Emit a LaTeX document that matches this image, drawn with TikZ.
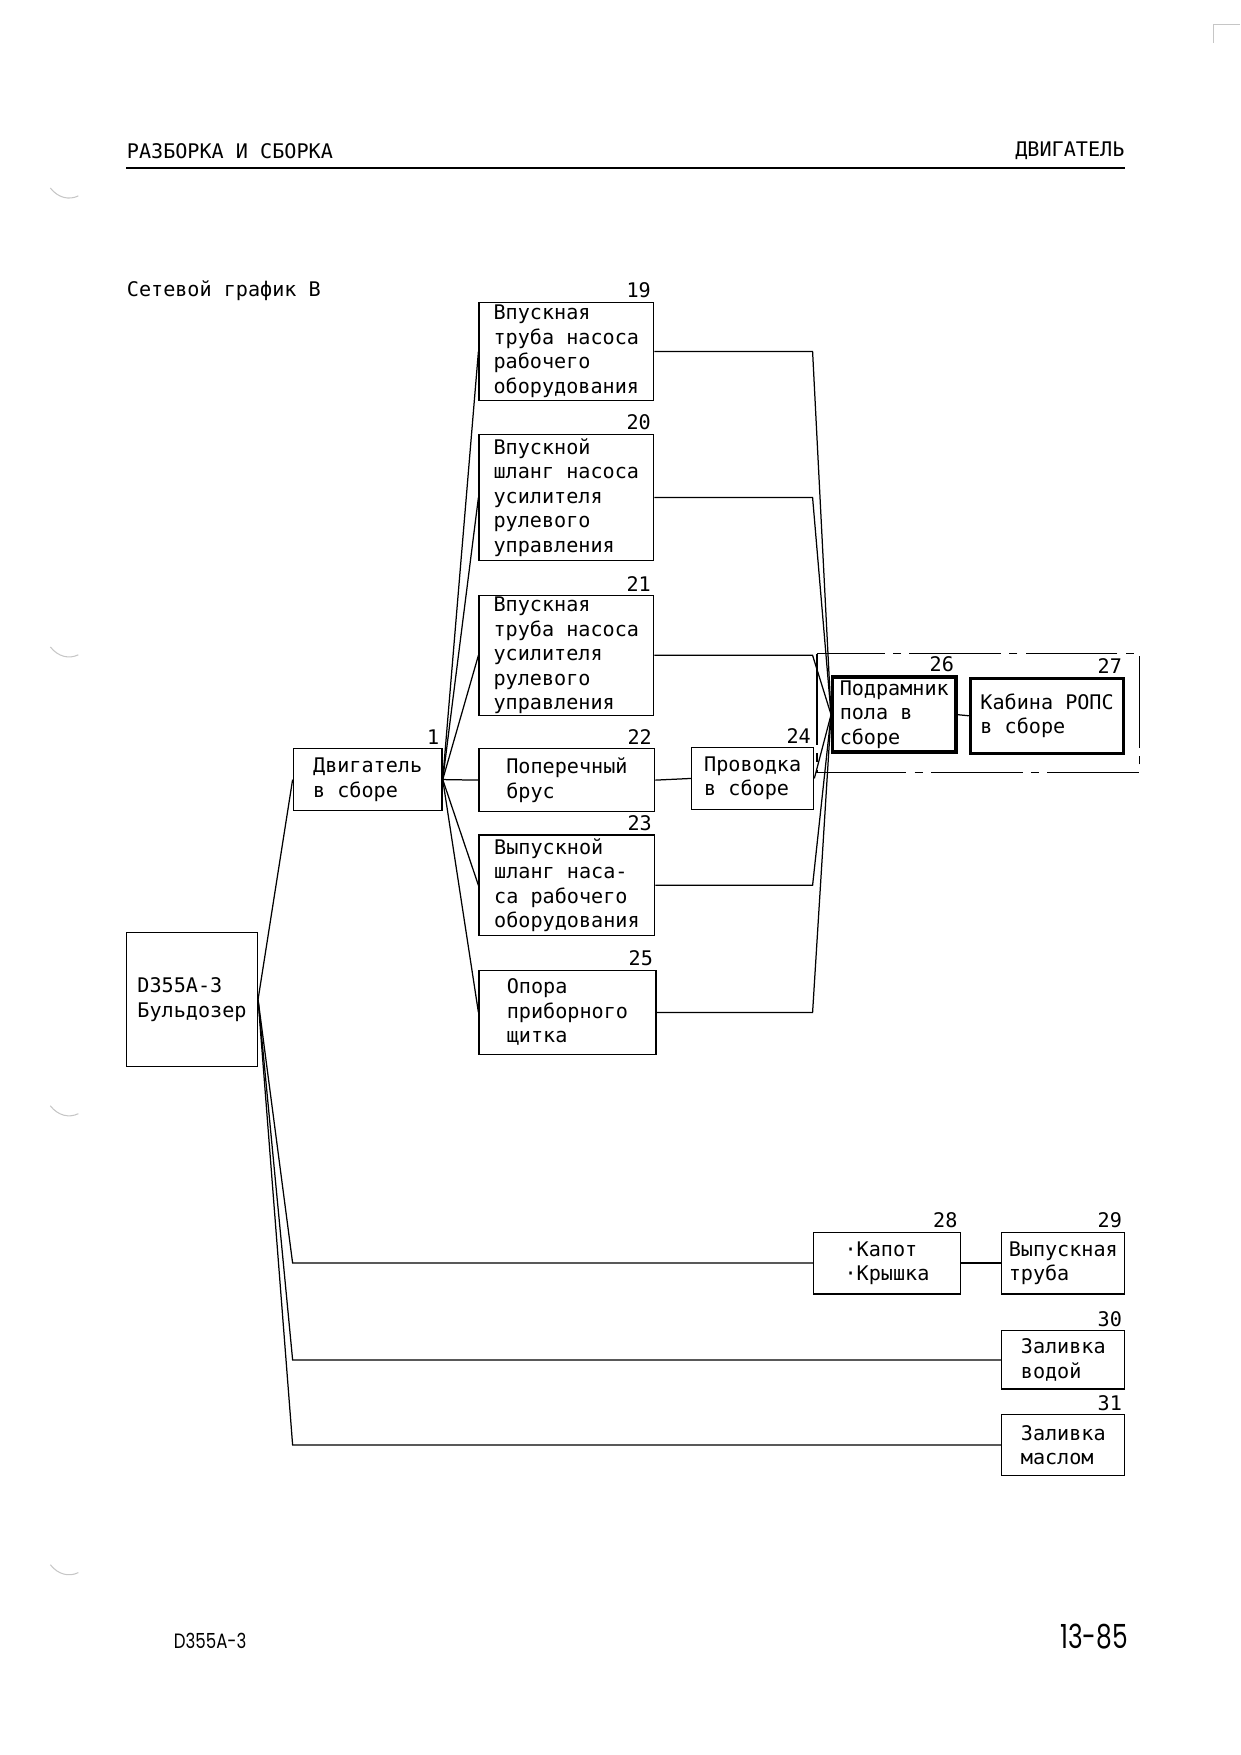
\documentclass[tikz,border=0pt]{standalone}
\usepackage{fontspec}
\usepackage{graphicx}
\newfontfamily\plotter{DejaVu Sans Mono}
\newfontfamily\pagefont{Poppins}
\newcommand\pxu{0.18952mm}

\begin{document}
\begin{tikzpicture}[x=0.18952mm, y=-0.18952mm,
    txt/.style={font=\plotter\fontsize{9.7}{11.8}\selectfont},
    box/.style={txt, draw, line width=0.6pt, align=left, inner sep=0pt},
    heavy/.style={box, line width=1.6pt},
    num/.style={txt, anchor=south east, inner sep=1.5pt},
    link/.style={line width=0.6pt},
    group/.style={line width=0.6pt, dash pattern=on 15.5mm off 1.4mm on 1.4mm off 1.4mm}]
  \useasboundingbox (0,0) rectangle (1108,1568);

  % page marks
  \foreach \y in {168,578,988,1398}
    \draw[gray!45, line width=0.5pt] (45,\y) .. controls (52,\y+9) and (62,\y+11) .. (70,\y+7);
  \draw[gray!45, line width=0.5pt] (1108,22) -- (1084,22) -- (1084,38);

  % header
  \node[txt, anchor=west, inner sep=0pt] (title) at (113,135) {РАЗБОРКА И СБОРКА};
  \node[txt, anchor=east, inner sep=0pt] (section) at (1005,135) {ДВИГАТЕЛЬ};
  \draw[line width=1.2pt] (113,150) -- (1005,150);
  \node[txt, anchor=west, inner sep=0pt] (chart) at (113,260) {Сетевой график В};

  % boxes
  \node[box, minimum width=117*\pxu, minimum height=120*\pxu] (bd) at (171.5,893) {D355A-3\\Бульдозер};
  \node[box, minimum width=133*\pxu, minimum height=55*\pxu] (b1) at (328.5,696.5) {Двигатель\\в сборе};
  \node[box, minimum width=156*\pxu, minimum height=88*\pxu] (b19) at (506,314) {Впускная\\труба насоса\\рабочего\\оборудования};
  \node[box, minimum width=156*\pxu, minimum height=113*\pxu] (b20) at (506,444.5) {Впускной\\шланг насоса\\усилителя\\рулевого\\управления};
  \node[box, minimum width=156*\pxu, minimum height=107*\pxu] (b21) at (506,585.5) {Впускная\\труба насоса\\усилителя\\рулевого\\управления};
  \node[box, minimum width=157*\pxu, minimum height=56*\pxu] (b22) at (506.5,697) {Поперечный\\брус};
  \node[box, minimum width=157*\pxu, minimum height=90*\pxu] (b23) at (506.5,791) {Выпускной\\шланг наса-\\са рабочего\\оборудования};
  \node[box, minimum width=158*\pxu, minimum height=75*\pxu] (b25) at (507,904.5) {Опора\\приборного\\щитка};
  \node[box, minimum width=109*\pxu, minimum height=55*\pxu] (b24) at (672.5,695.5) {Проводка\\в сборе};
  \node[heavy, minimum width=110*\pxu, minimum height=67*\pxu] (b26) at (799,638.5) {Подрамник\\пола в\\сборе};
  \node[heavy, minimum width=137*\pxu, minimum height=67*\pxu] (b27) at (935.5,639.5) {Кабина РОПС\\в сборе};
  \node[box, minimum width=131*\pxu, minimum height=55*\pxu] (b28) at (792.5,1128.5) {·Капот\\·Крышка};
  \node[box, minimum width=110*\pxu, minimum height=55*\pxu] (b29) at (950,1128.5) {Выпускная\\труба};
  \node[box, minimum width=110*\pxu, minimum height=52*\pxu] (b30) at (950,1215) {Заливка\\водой};
  \node[box, minimum width=110*\pxu, minimum height=54*\pxu] (b31) at (950,1291) {Заливка\\маслом};
  \draw[group] (730,584) rectangle (1018,690);

  % numbers
  \node[num] (n1) at (b1.north east) {1};
  \foreach \n in {19,20,21,22,23,24,25,26,27,28,29,30,31}
    \node[num] (n\n) at (b\n.north east) {\n};

  % connectors
  \coordinate (bus) at (726,0);
  \draw[link] (bd.east) -- (b1.west);
  \draw[link] (bd.east) -- (b1.west |- b28.west) -- (b28.west);
  \draw[link] (bd.east) -- (b1.west |- b30.west) -- (b30.west);
  \draw[link] (bd.east) -- (b1.west |- b31.west) -- (b31.west);
  \foreach \n in {19,20,21,22,23,25}
    \draw[link] (b1.east) -- (b\n.west);
  \foreach \n in {19,20,21,23,25}
    \draw[link] (b\n.east) -- (b\n.east -| bus) -- (b26.west);
  \draw[link] (b22.east) -- (b24.west);
  \draw[link] (b24.east) -- (b26.west);
  \draw[link] (b26.east) -- (b27.west);
  \draw[link] (b28.east) -- (b29.west);

  % footer
  \node[anchor=west, inner sep=0pt] (model) at (155,1466) {\pagefont\fontsize{10}{12}\selectfont\scalebox{0.8}[1]{D355A-3}};
  \node[anchor=east, inner sep=0pt] (page) at (1008,1462) {\pagefont\fontsize{16}{18}\selectfont\scalebox{0.75}[1]{13-85}};
\end{tikzpicture}
\end{document}
